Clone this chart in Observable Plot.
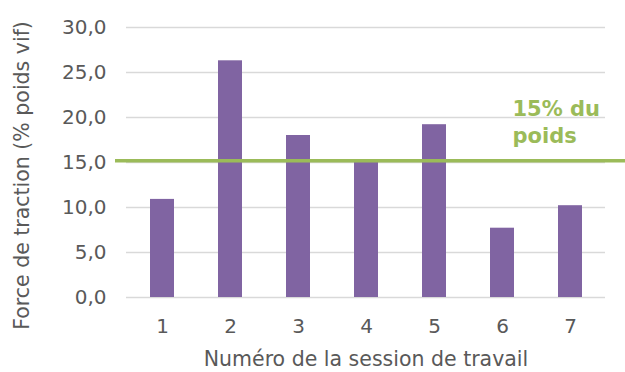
<!DOCTYPE html>
<html>
<head>
<meta charset="utf-8">
<script src="https://cdn.jsdelivr.net/npm/d3@7"></script>
<script src="https://cdn.jsdelivr.net/npm/@observablehq/plot@0.6"></script>
<style>
  html, body { margin: 0; padding: 0; background: #fff; }
</style>
</head>
<body>
<div id="chart"></div>
<script>
const sessions = ["1", "2", "3", "4", "5", "6", "7"];
const forces = [10.9, 26.3, 18.0, 15.0, 19.2, 7.7, 10.2];
const yTicks = [0, 5, 10, 15, 20, 25, 30];
const threshold = [15.2];
const thresholdLabel = ["15% du\npoids"];
const xTitle = ["Numéro de la session de travail"];
const yTitle = ["Force de traction (% poids vif)"];

const data = sessions.map((s, i) => ({session: s, force: forces[i]}));
const fmt = d => d.toFixed(1).replace(".", ",");

const chart = Plot.plot({
  width: 625,
  height: 372,
  marginLeft: 126,
  marginRight: 20,
  marginTop: 27,
  marginBottom: 75,
  style: {fontFamily: "DejaVu Sans", fontSize: "20px", color: "#595959", background: "white"},
  x: {domain: sessions, paddingInner: 0.65, paddingOuter: 0.325, label: null},
  y: {domain: [0, 30], label: null},
  marks: [
    Plot.gridY(yTicks, {stroke: "#d9d9d9", strokeOpacity: 1, strokeWidth: 1.5}),
    Plot.barY(data, {x: "session", y: "force", fill: "#8064A2"}),
    Plot.ruleY(threshold, {stroke: "#9BBB59", strokeWidth: 3.5, insetLeft: -11, insetRight: -20}),
    Plot.axisY(yTicks, {tickSize: 0, tickPadding: 20, tickFormat: fmt, label: null, fill: "#595959"}),
    Plot.axisX({tickSize: 0, tickPadding: 21, label: null, fill: "#595959"}),
    Plot.text(thresholdLabel, {y: threshold, frameAnchor: "right", textAnchor: "start", lineAnchor: "top",
      dx: -93, dy: -63, fill: "#9BBB59", fontWeight: "bold", fontSize: 21, lineHeight: 1.25}),
    Plot.text(xTitle, {frameAnchor: "bottom", lineAnchor: "middle", dy: 62, fill: "#595959", fontSize: 20.5}),
    Plot.text(yTitle, {frameAnchor: "left", textAnchor: "middle", rotate: -90, lineAnchor: "middle", dx: -104, dy: 13, fill: "#595959", fontSize: 20.5})
  ]
});
document.getElementById("chart").appendChild(chart);
</script>
</body>
</html>
